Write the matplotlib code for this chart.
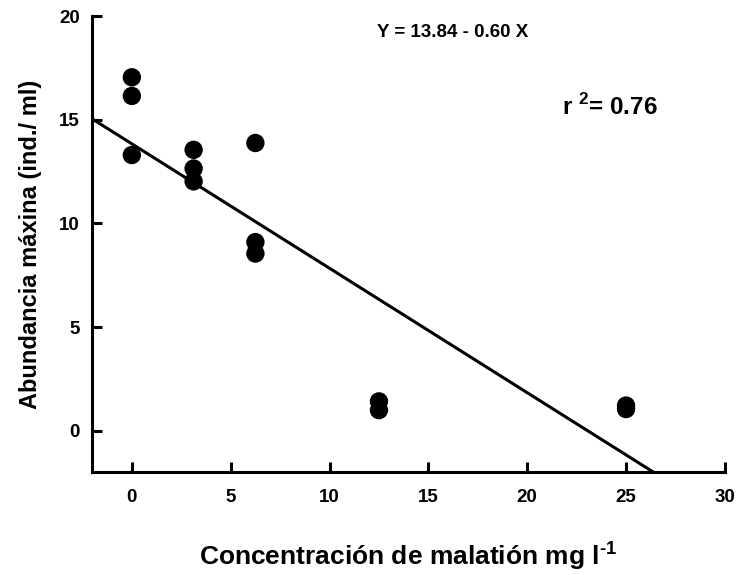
import matplotlib
matplotlib.use("Agg")
import matplotlib.pyplot as plt
import numpy as np

plt.rcParams['font.family'] = ['Liberation Sans', 'DejaVu Sans']
plt.rcParams['mathtext.fontset'] = 'custom'
plt.rcParams['mathtext.rm'] = 'Liberation Sans:bold'
plt.rcParams['mathtext.bf'] = 'Liberation Sans:bold'

conc = [0, 0, 0, 3.125, 3.125, 3.125, 6.25, 6.25, 6.25, 12.5, 12.5, 25, 25]
abund = [17.05, 16.15, 13.3, 13.55, 12.65, 12.03, 13.88, 9.1, 8.55, 1.42, 1.0, 1.22, 1.05]
intercept = 13.84
slope = -0.60
xticks = [0, 5, 10, 15, 20, 25, 30]
yticks = [0, 5, 10, 15, 20]

fig = plt.figure(figsize=(7.39, 5.75), dpi=100)
ax = fig.add_axes([0.1249, 0.1786, 0.856, 0.7934])

ax.scatter(conc, abund, s=175, color='black', zorder=3, edgecolors='none')
xl = np.array([-2, (-2 - intercept) / slope])
ax.plot(xl, intercept + slope * xl, color='black', lw=2.2, solid_capstyle='butt')

ax.set_xlim(-2, 30)
ax.set_ylim(-2, 20)
ax.set_xticks(xticks)
ax.set_yticks(yticks)
for s in ['top', 'right']:
    ax.spines[s].set_visible(False)
for s in ['left', 'bottom']:
    ax.spines[s].set_linewidth(2.2)
ax.tick_params(direction='in', length=7, width=2.2, labelsize=13.5)
ax.tick_params(axis='y', pad=9)
ax.tick_params(axis='x', pad=12)
for lab in ax.get_xticklabels() + ax.get_yticklabels():
    lab.set_fontweight('bold')

ax.set_xlabel('Concentración de malatión mg l$^{\\text{-}\\mathbf{1}}$', fontsize=19, fontweight='bold', labelpad=24)
ax.set_ylabel('Abundancia máxina (ind./ ml)', fontsize=17, fontweight='bold', labelpad=12)

ax.text(0.569, 0.963, 'Y = 13.84 - 0.60 X', transform=ax.transAxes, fontsize=13.5,
        fontweight='bold', ha='center', va='center')
ax.text(0.818, 0.80, 'r $^{\\mathbf{2}}$= 0.76', transform=ax.transAxes, fontsize=17.5,
        fontweight='bold', ha='center', va='center')

fig.savefig('out.png', dpi=100)
